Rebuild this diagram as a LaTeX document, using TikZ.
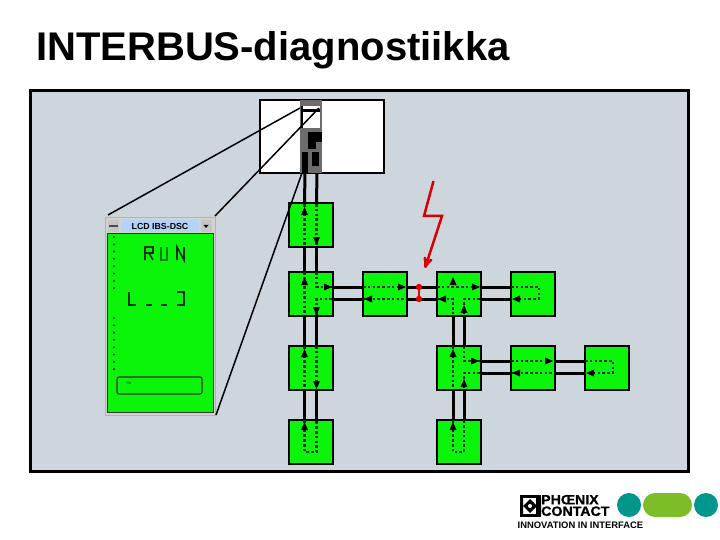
\documentclass[tikz,border=0pt]{standalone}
\usepackage{fontspec}
\setmainfont{Liberation Sans}
\newfontfamily\logofont[FakeBold=1,FakeStretch=1.05]{Liberation Sans Bold}
\usetikzlibrary{arrows,positioning}

\definecolor{panelgrey}{RGB}{205,213,221}
\definecolor{busgreen}{RGB}{10,245,10}
\definecolor{wiredot}{RGB}{5,55,5}
\definecolor{logoteal}{RGB}{0,150,140}
\definecolor{logogreen}{RGB}{125,190,40}
\definecolor{titlebar}{RGB}{180,210,245}

\tikzset{
  modul/.style={draw=black,line width=2pt,fill=busgreen,minimum size=44pt,inner sep=0pt,outer sep=0pt},
  wire/.style={draw=black,line width=3pt},
  dots/.style={draw=wiredot,line width=2.4pt,dash pattern=on 2.6pt off 2.2pt},
  zoomline/.style={draw=black,line width=1.5pt},
  ledtext/.style={draw=wiredot,line width=1.6pt},
  winbtn/.style={fill=gray!45,minimum width=11pt,minimum height=12pt,inner sep=0pt},
}

\begin{document}
\begin{tikzpicture}[x=1pt,y=-1pt,>=stealth',node distance=74pt]

\useasboundingbox (0,0) rectangle (720,540);

\node[anchor=west,inner sep=0pt,font=\bfseries\fontsize{40}{40}\selectfont] (title) at (36,50) {INTERBUS-diagnostiikka};

\node[draw=black,line width=2.5pt,fill=panelgrey,minimum width=658pt,minimum height=381pt,inner sep=0pt] (panel) at (359.5,281) {};

% controller
\node[draw=black,line width=1.6pt,fill=white,minimum width=124pt,minimum height=73pt,inner sep=0pt] (ctrl) at (322,136.5) {};
\node[fill=gray!85!black,minimum width=22pt,minimum height=73pt,inner sep=0pt] (dev) at (311,136.5) {};
\fill[white] (303,106) rectangle (320,128);
\fill[black] (303,109) rectangle (320,112);
\fill[black] (301,106) rectangle (303,128);
\fill[black] (308,132) rectangle (322,142);
\fill[black] (308,142) rectangle (316,149);
\fill[black] (302,152) rectangle (308,173);
\fill[black] (312,152) rectangle (319,166);

% modules
\node[modul] (a1) at (310.5,225) {};
\node[modul] (a2) at (310.5,293.5) {};
\node[modul] (a3) [below of=a2] {};
\node[modul] (a4) [below of=a3] {};
\node[modul] (b2) [right of=a2,xshift=.5pt] {};
\node[modul] (c2) [right of=b2,xshift=-.5pt] {};
\node[modul] (d2) [right of=c2,xshift=.5pt] {};
\node[modul] (c3) [below of=c2] {};
\node[modul] (c4) [below of=c3] {};
\node[modul] (d3) [right of=c3,xshift=.5pt] {};
\node[modul] (e3) [right of=d3] {};

% wires
\draw[wire] ([xshift=-6pt]dev.south) -- ([xshift=-6pt]a1.north);
\draw[wire] ([xshift=6pt]dev.south) -- ([xshift=6pt]a1.north);
\draw[wire] ([xshift=-6pt]a1.south) -- ([xshift=-6pt]a2.north);
\draw[wire] ([xshift=6pt]a1.south) -- ([xshift=6pt]a2.north);
\draw[wire] ([xshift=-6pt]a2.south) -- ([xshift=-6pt]a3.north);
\draw[wire] ([xshift=6pt]a2.south) -- ([xshift=6pt]a3.north);
\draw[wire] ([xshift=-6pt]a3.south) -- ([xshift=-6pt]a4.north);
\draw[wire] ([xshift=6pt]a3.south) -- ([xshift=6pt]a4.north);
\draw[wire] ([xshift=-5.5pt]c2.south) -- ([xshift=-5.5pt]c3.north);
\draw[wire] ([xshift=5.5pt]c2.south) -- ([xshift=5.5pt]c3.north);
\draw[wire] ([xshift=-5.5pt]c3.south) -- ([xshift=-5.5pt]c4.north);
\draw[wire] ([xshift=5.5pt]c3.south) -- ([xshift=5.5pt]c4.north);
\draw[wire] ([yshift=-6pt]a2.east) -- ([yshift=-6pt]b2.west);
\draw[wire] ([yshift=6pt]a2.east) -- ([yshift=6pt]b2.west);
\draw[wire] ([yshift=-6pt]b2.east) -- ([yshift=-6pt]c2.west);
\draw[wire] ([yshift=6pt]b2.east) -- ([yshift=6pt]c2.west);
\draw[wire] ([yshift=-6pt]c2.east) -- ([yshift=-6pt]d2.west);
\draw[wire] ([yshift=6pt]c2.east) -- ([yshift=6pt]d2.west);
\draw[wire] ([yshift=-6pt]c3.east) -- ([yshift=-6pt]d3.west);
\draw[wire] ([yshift=6pt]c3.east) -- ([yshift=6pt]d3.west);
\draw[wire] ([yshift=-6pt]d3.east) -- ([yshift=-6pt]e3.west);
\draw[wire] ([yshift=6pt]d3.east) -- ([yshift=6pt]e3.west);

% dotted paths inside the modules
\draw[dots] (304.5,204) -- (304.5,246) (316.5,204) -- (316.5,246);
\draw[dots] (304.5,272) -- (304.5,315);
\draw[dots] (316.5,272) -- (316.5,287) -- (332,287);
\draw[dots] (332,299) -- (316.5,299) -- (316.5,315);
\draw[dots] (363,287) -- (407,287) (363,299) -- (407,299);
\draw[dots] (437,287) -- (480,287);
\draw[dots] (437,299) -- (453,299) -- (453,315);
\draw[dots] (480,299) -- (464,299) -- (464,315);
\draw[dots] (511,287) -- (539,287) -- (539,299) -- (511,299);
\draw[dots] (304.5,346) -- (304.5,389) (316.5,346) -- (316.5,389);
\draw[dots] (304.5,420) -- (304.5,452) -- (316.5,452) -- (316.5,420);
\draw[dots] (453,346) -- (453,389);
\draw[dots] (464,346) -- (464,361) -- (480,361);
\draw[dots] (480,373) -- (464,373) -- (464,389);
\draw[dots] (511,361) -- (555,361) (511,373) -- (555,373);
\draw[dots] (585,361) -- (613,361) -- (613,373) -- (585,373);
\draw[dots] (453,420) -- (453,452) -- (464,452) -- (464,420);

% arrow tips
\foreach \px/\py in {304.5/212,304.5/282,304.5/354,304.5/427,453/282,464/384,453/354,464/310,453/427}
  \fill[black] (\px,\py-5) -- (\px+3.5,\py+3) -- (\px-3.5,\py+3) -- cycle;
\foreach \px/\py in {316.5/240,316.5/310,316.5/384}
  \fill[black] (\px,\py+5) -- (\px+3.5,\py-3) -- (\px-3.5,\py-3) -- cycle;
\foreach \px/\py in {327/287,401/287,475/287,474/361,548/361}
  \fill[black] (\px+5,\py) -- (\px-3,\py+3.5) -- (\px-3,\py-3.5) -- cycle;
\foreach \px/\py in {369/299,443/299,517/299,517/373,591/373}
  \fill[black] (\px-5,\py) -- (\px+3,\py+3.5) -- (\px+3,\py-3.5) -- cycle;

% fault
\coordinate (faultA) at (419,287);
\coordinate (faultB) at (419,299);
\draw[red!90!black,line width=2pt] (faultA) -- (faultB);
\fill[red!90!black] (faultA) circle (3.2pt) (faultB) circle (3.2pt);
\coordinate (bolttop) at (433.5,181);
\coordinate (boltmid) at (424,216);
\coordinate (boltend) at (442,216);
\coordinate (bolttip) at (425,268);
\draw[red!85!black,line width=2.5pt,line join=miter,-stealth'] (bolttop) -- (boltmid) -- (boltend) -- (bolttip);

% display window
\node[fill=gray!35,draw=gray!60,line width=.8pt,minimum width=110pt,minimum height=198pt,inner sep=0pt] (lcd) at (160,316) {};
\node[draw=black!80,line width=1pt,fill=busgreen,minimum width=106pt,minimum height=179pt,inner sep=0pt] (screen) at (160,322.5) {};
\node[fill=titlebar,minimum width=78pt,minimum height=12pt,inner sep=0pt,font=\bfseries\fontsize{8.8}{8}\selectfont] (bar) at (160,226) {LCD IBS-DSC};
\node[winbtn] (btnL) at (113.5,226) {};
\node[winbtn] (btnR) at (206,226) {};
\fill[black!70] (109,225) rectangle (118,227);
\fill[black] (203.5,225) -- (208.5,225) -- (206,228) -- cycle;
\foreach \dy in {0,1,...,7} \fill[wiredot] (114,237+\dy*7.3) circle (1.2pt);
\foreach \dy in {0,1,...,7} \fill[wiredot] (114,318+\dy*7.3) circle (1.2pt);
\node[draw=black!80,line width=1.3pt,rounded corners=2pt,minimum width=85pt,minimum height=17pt,inner sep=0pt] (status) at (159.5,385.5) {};
\node[font=\fontsize{3.5}{3.5}\selectfont,text=wiredot] (stat) at (129,383.5) {Fkt};

% RUN in segments
\draw[ledtext] (145,260) -- (145,247) -- (153,247) -- (153,253) -- (145,253) (149,253) -- (153,260);
\draw[ledtext,draw=wiredot!60!busgreen] (161,247) -- (161,260) -- (167,260) -- (167,247);
\draw[ledtext] (177,260) -- (177,247) -- (184,260) -- (184,247);
\draw[ledtext] (129,292) -- (129,305) -- (136,305);
\draw[ledtext] (146,305) -- (152,305) (161,305) -- (167,305);
\draw[ledtext] (177,292) -- (184,292) -- (184,305) -- (177,305);

% zoom lines
\coordinate (winNW) at (108,215);
\coordinate (winNE) at (215,216);
\coordinate (winSE) at (216,415);
\draw[zoomline] (300,108) -- (winNW);
\draw[zoomline] (319,108) -- (winNE);
\draw[zoomline] (302,173) -- (winSE);

% logo
\node[draw=black,line width=2.5pt,fill=white,minimum size=19pt,inner sep=0pt] (logosq) at (530.5,506) {};
\fill[black] (520,497) rectangle (523,515) (536,497) rectangle (541,515);
\fill[black] (523,506) -- (530,499) -- (537,506) -- (530,513) -- cycle;
\fill[white] (530,506) circle (2pt);
\node[anchor=west,inner sep=0pt,font=\logofont\fontsize{13.5}{11.5}\selectfont,align=left] (logotxt) at (541,505.5) {PHŒNIX\\CONTACT};
\node[anchor=west,inner sep=0pt,font=\bfseries\fontsize{9.4}{9}\selectfont] (logosub) at (517.5,525.5) {INNOVATION IN INTERFACE};
\node[circle,fill=logoteal,minimum size=24pt,inner sep=0pt] (dotA) at (629,505) {};
\node[rounded corners=12pt,fill=logogreen,minimum width=49pt,minimum height=24pt,inner sep=0pt] (pill) at (667.5,505) {};
\node[circle,fill=logoteal,minimum size=24pt,inner sep=0pt] (dotB) at (706,505) {};

\end{tikzpicture}
\end{document}
